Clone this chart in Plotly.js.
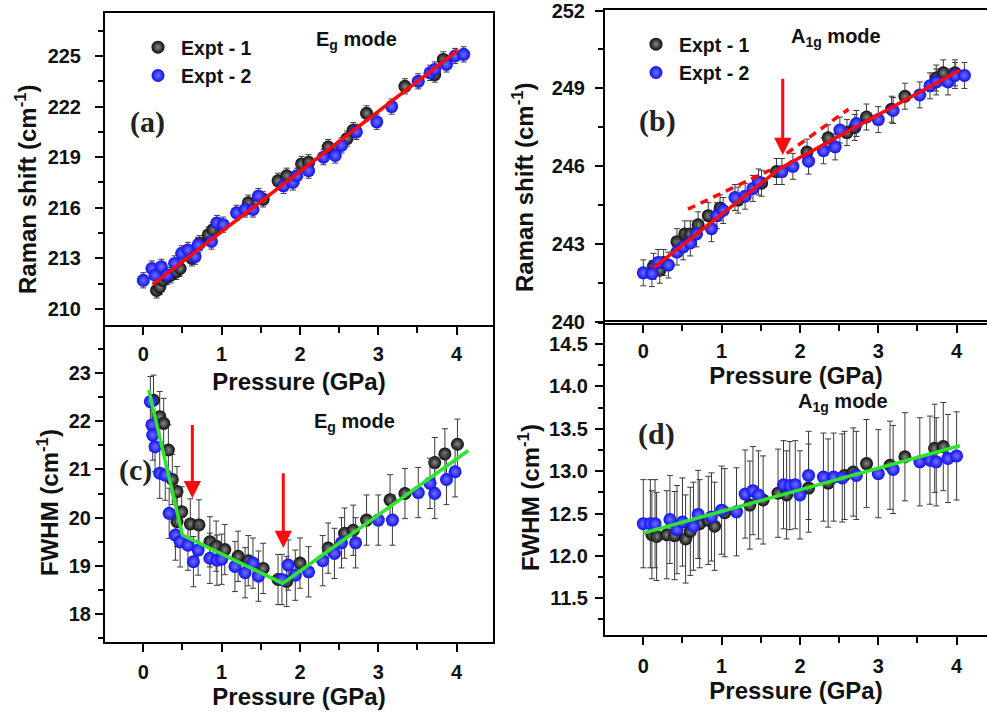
<!DOCTYPE html>
<html>
<head>
<meta charset="utf-8">
<script src="https://cdn.plot.ly/plotly-3.0.1.min.js"></script>
<style>html,body{margin:0;padding:0;background:#fff;}#chart{width:987px;height:713px;}</style>
</head>
<body>
<div id="chart"></div>
<script>
// ---------- DATA ----------
// (a) Eg mode Raman shift
const a_x1 = [0.17,0.21,0.25,0.30,0.35,0.42,0.47,0.62,0.72,0.83,0.89,1.34,1.53,1.72,1.83,2.02,2.11,2.36,2.60,2.68,2.85,3.34,3.72,3.83];
const a_y1 = [211.1,211.3,211.7,211.9,212.0,212.2,212.4,213.0,213.9,214.4,214.7,216.3,216.5,217.6,217.9,218.6,218.7,219.6,220.1,220.6,221.6,223.2,223.9,224.8];
const a_x2 = [0.00,0.11,0.15,0.23,0.30,0.40,0.49,0.57,0.66,0.70,0.87,0.94,1.02,1.19,1.30,1.40,1.47,1.79,1.91,1.96,2.11,2.30,2.45,2.53,2.72,2.98,3.17,3.51,3.66,3.72,3.87,3.98,4.09];
const a_y2 = [211.7,212.4,212.0,212.5,212.0,212.7,213.3,213.5,213.1,213.8,214.0,215.1,215.0,215.7,215.9,215.9,216.7,217.3,217.5,217.9,218.2,219.0,219.1,219.7,220.5,221.1,222.0,223.5,224.0,224.2,224.5,225.0,225.1];
const a_err = 0.45;
const a_fit_x = [0.12, 4.02];
const a_fit_y = [211.45, 225.35];

// (b) A1g mode Raman shift
const b_x1 = [0.13,0.21,0.26,0.43,0.53,0.60,0.70,0.83,0.98,1.21,1.51,1.70,2.09,2.36,2.60,2.70,2.85,3.17,3.34,3.74,3.83,3.98];
const b_y1 = [242.15,242.0,242.3,243.1,243.4,243.4,243.75,244.1,244.4,244.7,245.35,245.8,246.55,247.1,247.3,247.5,247.9,248.2,248.7,249.4,249.6,249.6];
const b_x2 = [0.00,0.11,0.19,0.32,0.43,0.51,0.60,0.68,0.87,0.94,1.02,1.17,1.30,1.40,1.47,1.77,1.91,2.11,2.30,2.45,2.51,2.72,3.00,3.19,3.53,3.66,3.74,3.89,3.98,4.10];
const b_y2 = [241.9,241.87,242.3,242.2,242.7,242.9,243.05,243.4,243.6,244.1,244.3,244.8,244.85,245.15,245.4,245.8,246.0,246.2,246.6,246.75,247.4,247.65,247.8,248.15,248.75,249.1,249.25,249.25,249.5,249.5];
const b_err = 0.5;
const b_fit_x = [0.13, 1.75, 4.04];
const b_fit_y = [242.09, 245.93, 249.7];
const b_dash1_x = [0.57, 1.62];
const b_dash1_y = [244.35, 245.86];
const b_dash2_x = [1.83, 2.62];
const b_dash2_y = [246.5, 248.2];
const b_arrow = {x: 1.78, from: 249.43, to: 246.44};

// (c) Eg mode FWHM
const c_x1 = [0.13,0.21,0.26,0.32,0.37,0.43,0.43,0.49,0.60,0.71,0.85,0.93,1.04,1.21,1.34,1.53,1.72,1.83,2.00,2.36,2.57,2.68,2.85,3.15,3.34,3.72,3.85,4.01];
const c_y1 = [22.43,22.09,21.95,21.4,20.79,20.54,19.92,20.12,19.87,19.85,19.5,19.41,19.34,19.2,19.11,18.95,18.72,18.68,19.06,19.37,19.68,19.74,19.95,20.37,20.5,21.14,21.32,21.52];
const c_x2 = [0.09,0.11,0.12,0.15,0.21,0.28,0.33,0.41,0.47,0.57,0.64,0.70,0.85,0.94,1.00,1.17,1.30,1.40,1.47,1.77,1.85,1.94,2.11,2.29,2.44,2.53,2.71,3.00,3.18,3.51,3.66,3.72,3.87,3.98];
const c_y2 = [22.4,21.92,21.71,21.47,20.92,20.88,20.09,19.64,19.5,19.43,19.09,19.33,19.16,19.12,19.14,18.99,18.86,19.06,18.79,18.72,19.02,18.81,18.88,19.11,19.26,19.48,19.48,19.95,19.95,20.52,20.71,20.5,20.79,20.95];
const c_err = 0.52;
const c_fit_x = [0.07, 0.50, 1.78, 4.15];
const c_fit_y = [22.64, 19.64, 18.64, 21.39];
const c_arrows = [{x: 0.626, from: 21.95, to: 20.4}, {x: 1.787, from: 20.95, to: 19.37}];

// (d) A1g mode FWHM
const d_x1 = [0.11,0.17,0.30,0.40,0.54,0.60,0.72,0.83,0.91,1.04,1.36,1.53,1.72,1.83,2.11,2.36,2.57,2.68,2.85,3.15,3.34,3.72,3.83];
const d_y1 = [12.25,12.23,12.25,12.24,12.2,12.29,12.38,12.42,12.35,12.51,12.6,12.66,12.74,12.72,12.8,12.86,12.95,12.99,13.09,13.07,13.17,13.27,13.29];
const d_x2 = [0.00,0.09,0.15,0.34,0.43,0.50,0.64,0.70,0.87,1.00,1.19,1.30,1.40,1.47,1.79,1.87,1.94,2.00,2.11,2.30,2.43,2.54,2.72,3.00,3.19,3.53,3.66,3.74,3.89,4.00];
const d_y2 = [12.38,12.38,12.38,12.43,12.31,12.4,12.35,12.49,12.46,12.54,12.52,12.73,12.77,12.72,12.84,12.83,12.84,12.72,12.95,12.93,12.93,12.92,12.95,12.97,13.02,13.11,13.13,13.11,13.15,13.18];
const d_err = 0.52;
const d_fit_x = [0.0, 4.04];
const d_fit_y = [12.27, 13.30];

const seriesNames = ['Expt - 1', 'Expt - 2'];
const ramanTitle = 'Raman shift (cm<sup>-1</sup>)';
const fwhmTitle = 'FWHM (cm<sup>-1</sup>)';
const xTitle = 'Pressure (GPa)';

// ---------- STYLE ----------
const W = 987, H = 713;
const SANS = 'Liberation Sans, Arial, sans-serif';
const SERIF = 'Liberation Serif, Times New Roman, serif';
const px = v => v / W;
const py = v => 1 - v / H;

const blackMarker = {size: 13, color: '#0c0c0c', gradient: {type: 'radial', color: '#8a8a8a'}, line: {width: 0}};
const blueMarker = {size: 13, color: '#1010f0', gradient: {type: 'radial', color: '#7070ff'}, line: {width: 0}};
const errStyle = v => ({type: 'constant', value: v, color: '#3a3a3a', thickness: 1, width: 3});

function pts(x, y, err, marker, name, xa, ya, legend, show) {
  return {type: 'scatter', mode: 'markers', x: x, y: y, name: name, xaxis: xa, yaxis: ya,
          marker: marker, error_y: errStyle(err), legend: legend, showlegend: show, hoverinfo: 'skip'};
}
function line(x, y, color, xa, ya, dash) {
  return {type: 'scatter', mode: 'lines', x: x, y: y, xaxis: xa, yaxis: ya, showlegend: false,
          line: {color: color, width: 3.5, dash: dash || 'solid'}, hoverinfo: 'skip'};
}

const RED = '#ff0a0a', GREEN = '#2fe42f';

const traces = [
  pts(a_x1, a_y1, a_err, blackMarker, seriesNames[0], 'x', 'y', 'legend', true),
  pts(a_x2, a_y2, a_err, blueMarker, seriesNames[1], 'x', 'y', 'legend', true),
  line(a_fit_x, a_fit_y, RED, 'x', 'y'),
  pts(b_x1, b_y1, b_err, blackMarker, seriesNames[0], 'x2', 'y2', 'legend2', true),
  pts(b_x2, b_y2, b_err, blueMarker, seriesNames[1], 'x2', 'y2', 'legend2', true),
  line(b_fit_x, b_fit_y, RED, 'x2', 'y2'),
  line(b_dash1_x, b_dash1_y, RED, 'x2', 'y2', '8px,6px'),
  line(b_dash2_x, b_dash2_y, RED, 'x2', 'y2', '8px,6px'),
  pts(c_x1, c_y1, c_err, blackMarker, seriesNames[0], 'x3', 'y3', 'legend', false),
  pts(c_x2, c_y2, c_err, blueMarker, seriesNames[1], 'x3', 'y3', 'legend', false),
  line(c_fit_x, c_fit_y, GREEN, 'x3', 'y3'),
  pts(d_x1, d_y1, d_err, blackMarker, seriesNames[0], 'x4', 'y4', 'legend', false),
  pts(d_x2, d_y2, d_err, blueMarker, seriesNames[1], 'x4', 'y4', 'legend', false),
  line(d_fit_x, d_fit_y, GREEN, 'x4', 'y4')
];

const tickFont = {family: SANS, size: 20, weight: 'bold', color: '#111'};
const titleFont = {family: SANS, size: 24, weight: 'bold', color: '#111'};

function xAxis(domain, range, anchor, standoff, labStand) {
  return {domain: domain, range: range, anchor: anchor, showline: true, linecolor: '#000', linewidth: 2,
          mirror: true, ticks: 'outside', ticklen: 8, tickwidth: 2, tickcolor: '#000',
          tickvals: [0,1,2,3,4], ticklabelstandoff: labStand, ticklabeloverflow: 'allow',
          minor: {ticks: 'outside', ticklen: 6, tickwidth: 2, tickcolor: '#000', tickvals: [0.5,1.5,2.5,3.5]},
          showgrid: false, zeroline: false, tickfont: tickFont, automargin: false,
          title: {text: xTitle, font: titleFont, standoff: standoff}};
}
function yAxis(domain, range, anchor, tick0, dtick, mdtick, fmt, labStand, mirror) {
  return {domain: domain, range: range, anchor: anchor, showline: true, linecolor: '#000', linewidth: 2,
          mirror: mirror, ticks: 'outside', ticklen: 8, tickwidth: 2, tickcolor: '#000',
          tick0: tick0, dtick: dtick, tickformat: fmt, ticklabelstandoff: labStand, ticklabeloverflow: 'allow',
          minor: {ticks: 'outside', ticklen: 5, tickwidth: 2, tickcolor: '#000', tick0: tick0, dtick: mdtick},
          showgrid: false, zeroline: false, tickfont: tickFont, automargin: false};
}

const domA_x = [px(105), px(493)], domB_x = [px(605), 1];
const legFont = {family: SANS, size: 19.5, weight: 'bold', color: '#111'};
const layout = {
  width: W, height: H,
  margin: {l: 0, r: 0, t: 0, b: 0},
  paper_bgcolor: '#fff', plot_bgcolor: 'rgba(0,0,0,0)',
  showlegend: true,
  xaxis: xAxis(domA_x, [-0.489, 4.464], 'y', 9, 2),
  yaxis: yAxis([py(325), py(13)], [209.05, 227.55], 'x', 210, 3, 1.5, 'd', 10, true),
  xaxis2: xAxis(domB_x, [-0.489, 4.388], 'y2', 0, 1),
  yaxis2: yAxis([py(322.7), py(10)], [239.98, 252.02], 'x2', 240, 3, 1.5, 'd', 6, false),
  xaxis3: xAxis(domA_x, [-0.489, 4.464], 'y3', 6, 3),
  yaxis3: yAxis([py(642), py(327)], [17.427, 23.946], 'x3', 18, 1, 0.5, 'd', 0, true),
  xaxis4: xAxis(domB_x, [-0.489, 4.388], 'y4', 0, 4),
  yaxis4: yAxis([py(635), py(322)], [11.067, 14.76], 'x4', 11.5, 0.5, 0.25, '.1f', 3, false),
  legend: {x: px(135), y: py(28), xanchor: 'left', yanchor: 'top', bgcolor: 'rgba(0,0,0,0)',
           font: legFont, tracegroupgap: 0, itemwidth: 36},
  legend2: {x: px(633), y: py(25), xanchor: 'left', yanchor: 'top', bgcolor: 'rgba(0,0,0,0)',
           font: legFont, tracegroupgap: 0, itemwidth: 36},
  annotations: [],
};

const ann = layout.annotations;
const modeFont = {family: SANS, size: 20, weight: 'bold', color: '#111'};
const panelFont = {family: SERIF, size: 30, weight: 'bold', color: '#222'};
function label(x, y, text, font, angle) {
  return {xref: 'paper', yref: 'paper', x: px(x), y: py(y), xanchor: 'center', yanchor: 'middle',
          text: text, showarrow: false, font: font, textangle: angle || 0};
}
ann.push(label(356, 40, 'E<sub>g</sub> mode', modeFont));
ann.push(label(836, 37, 'A<sub>1g</sub> mode', modeFont));
ann.push(label(354, 422, 'E<sub>g</sub> mode', modeFont));
ann.push(label(843, 403, 'A<sub>1g</sub> mode', modeFont));
ann.push(label(147, 122, '(a)', panelFont));
ann.push(label(657, 121, '(b)', panelFont));
ann.push(label(135, 470, '(c)', panelFont));
ann.push(label(656, 434, '(d)', panelFont));
// y-axis titles
ann.push(label(26, 189, ramanTitle, titleFont, -90));
ann.push(label(523, 187, ramanTitle, titleFont, -90));
ann.push(label(48, 503, fwhmTitle, titleFont, -90));
ann.push(label(529, 498, fwhmTitle, titleFont, -90));

function arrow(a, xr, yr) {
  return {xref: xr, yref: yr, axref: xr, ayref: yr, x: a.x, y: a.to, ax: a.x, ay: a.from, text: '',
          showarrow: true, arrowhead: 2, arrowsize: 1.15, arrowwidth: 3, arrowcolor: RED};
}
ann.push(arrow(b_arrow, 'x2', 'y2'));
c_arrows.forEach(a => ann.push(arrow(a, 'x3', 'y3')));

Plotly.newPlot('chart', traces, layout, {staticPlot: true});
</script>
</body>
</html>
